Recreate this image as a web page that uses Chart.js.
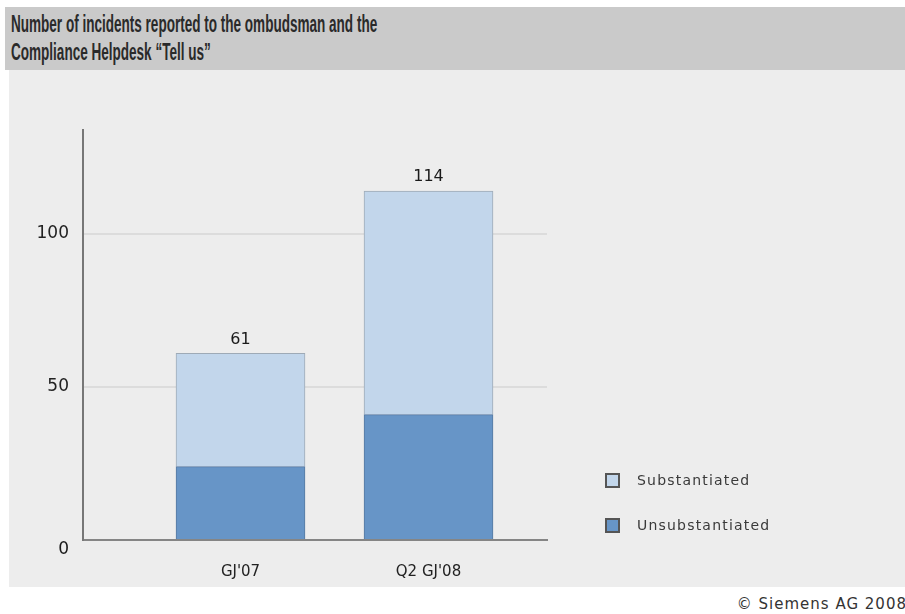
<!DOCTYPE html>
<html>
<head>
<meta charset="utf-8">
<script src="https://cdn.jsdelivr.net/npm/chart.js@4/dist/chart.umd.min.js"></script>
<style>
  body { margin: 0; background: #fff; width: 905px; height: 614px; overflow: hidden; position: relative; font-family: "DejaVu Sans", Verdana, sans-serif; }
  #head { position: absolute; left: 5px; top: 7px; width: 900px; height: 63px; background: #cacaca; }
  #head div { position: absolute; left: 6px; white-space: nowrap; font: bold 23px "Liberation Sans", Arial, sans-serif; color: #2a2a2a; transform-origin: 0 50%; }
  #box { position: absolute; left: 9px; top: 70px; width: 896px; height: 517px; background: #ededed; }
  .leg { position: absolute; left: 605px; width: 15px; height: 15px; box-sizing: border-box; border: 2px solid #555; }
  .legtxt { position: absolute; left: 637px; font-size: 14px; letter-spacing: 1.2px; color: #3a3a3a; line-height: 16px; }
  #copy { position: absolute; right: -2px; top: 595px; font-size: 15px; letter-spacing: 1px; color: #333; }
</style>
</head>
<body>
<div id="head">
  <div id="t1" style="top:4px">Number of incidents reported to the ombudsman and the</div>
  <div id="t2" style="top:32px">Compliance Helpdesk “Tell us”</div>
</div>
<div id="box"><canvas id="chart" width="896" height="517"></canvas></div>
<div id="legend"></div>
<div id="copy">© Siemens AG 2008</div>
<script>
var periods = ["GJ'07", "Q2 GJ'08"];
var unsubstantiated = [24, 41];
var substantiated = [37, 73];
var totals = [61, 114];
var yTicks = [0, 50, 100];

var colUnsub = '#6795c7';
var colSub = '#c2d6eb';

// squeeze the title lines to the narrow header font width
var t1 = document.getElementById('t1');
var sx = 366 / t1.offsetWidth;
t1.style.transform = 'scaleX(' + sx + ')';
document.getElementById('t2').style.transform = 'scaleX(' + sx + ')';

function points(vals) {
  var out = [];
  for (var i = 0; i < vals.length; i++) out.push({ x: i, y: vals[i] });
  return out;
}

// totals over the bars and the zero label sitting a bit under the baseline
var extras = {
  id: 'extras',
  afterDraw: function (chart) {
    var ctx = chart.ctx;
    var xs = chart.scales.x, ys = chart.scales.y;
    ctx.save();
    ctx.fillStyle = '#1a1a1a';
    ctx.font = '16px "DejaVu Sans", Verdana, sans-serif';
    ctx.textAlign = 'center';
    ctx.textBaseline = 'middle';
    for (var i = 0; i < totals.length; i++) {
      ctx.fillText(totals[i], xs.getPixelForValue(i), ys.getPixelForValue(totals[i]) - 14);
    }
    ctx.textAlign = 'right';
    ctx.font = '17px "DejaVu Sans", Verdana, sans-serif';
    ctx.fillText('0', ys.right - 14, ys.getPixelForValue(0) + 10);
    ctx.restore();
  }
};

new Chart(document.getElementById('chart'), {
  type: 'bar',
  data: {
    datasets: [{
      label: 'Unsubstantiated',
      data: points(unsubstantiated),
      backgroundColor: colUnsub,
      borderColor: '#56789f',
      borderWidth: 1,
      barThickness: 129
    }, {
      label: 'Substantiated',
      data: points(substantiated),
      backgroundColor: colSub,
      borderColor: '#9eaab6',
      borderWidth: 1,
      barThickness: 129
    }]
  },
  options: {
    responsive: false,
    animation: false,
    layout: { padding: { top: 60, right: 358, bottom: 0, left: 0 } },
    plugins: { legend: { display: false }, tooltip: { enabled: false } },
    scales: {
      x: {
        type: 'linear',
        stacked: true,
        offset: false,
        min: -0.8378,
        max: 1.6303,
        grid: { display: false },
        border: { color: '#858585', width: 2 },
        afterBuildTicks: function (scale) {
          scale.ticks = periods.map(function (p, i) { return { value: i }; });
        },
        afterFit: function (scale) { scale.height = 47; },
        ticks: {
          padding: 15,
          color: '#222',
          font: { size: 15, family: '"DejaVu Sans", Verdana, sans-serif' },
          callback: function (v) { return periods[v]; }
        }
      },
      y: {
        stacked: true,
        min: 0,
        max: 134,
        afterBuildTicks: function (scale) {
          scale.ticks = yTicks.map(function (v) { return { value: v }; });
        },
        afterFit: function (scale) { scale.width = 74; },
        grid: {
          drawTicks: false,
          lineWidth: 2,
          color: function (c) { return c.tick && c.tick.value === 0 ? 'rgba(0,0,0,0)' : '#dcdcdc'; }
        },
        border: { color: '#777', width: 2 },
        ticks: {
          padding: 14,
          color: '#222',
          font: { size: 17, family: '"DejaVu Sans", Verdana, sans-serif' },
          callback: function (v) { return v === 0 ? '' : v; }
        }
      }
    }
  },
  plugins: [extras]
});

// legend, light series on top
var legend = document.getElementById('legend');
var items = [['Substantiated', colSub, 473], ['Unsubstantiated', colUnsub, 518]];
items.forEach(function (it) {
  var sq = document.createElement('div');
  sq.className = 'leg';
  sq.style.top = it[2] + 'px';
  sq.style.background = it[1];
  legend.appendChild(sq);
  var tx = document.createElement('div');
  tx.className = 'legtxt';
  tx.style.top = (it[2] - 1) + 'px';
  tx.textContent = it[0];
  legend.appendChild(tx);
});
</script>
</body>
</html>
